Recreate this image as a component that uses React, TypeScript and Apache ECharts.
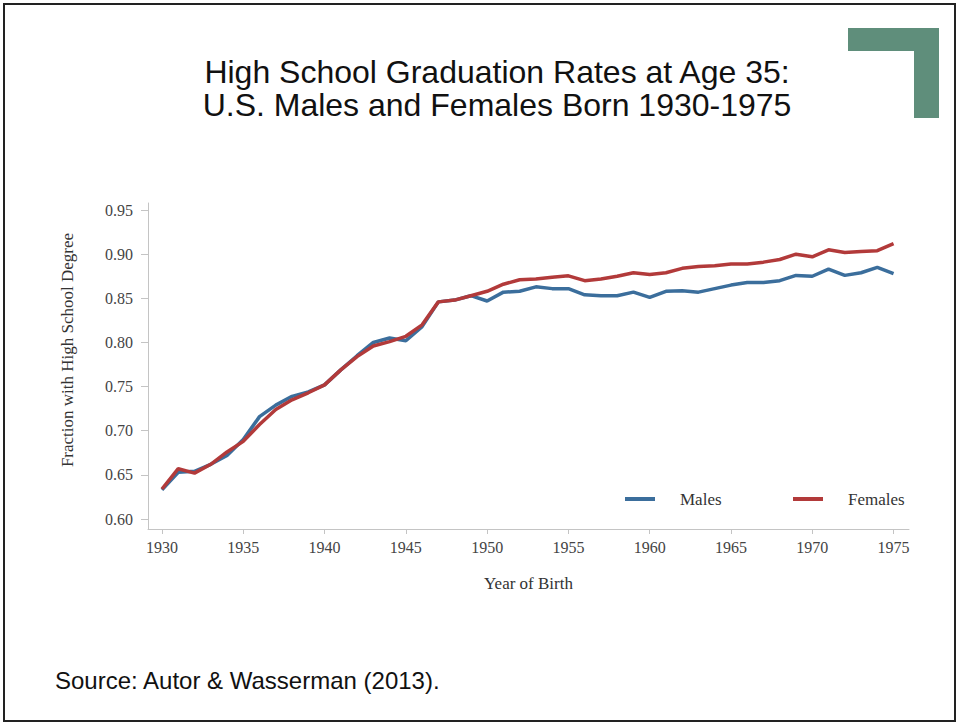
import React, { useEffect, useRef } from "react";
import * as echarts from "echarts";

const years = [
  1930, 1931, 1932, 1933, 1934, 1935, 1936, 1937, 1938, 1939,
  1940, 1941, 1942, 1943, 1944, 1945, 1946, 1947, 1948, 1949,
  1950, 1951, 1952, 1953, 1954, 1955, 1956, 1957, 1958, 1959,
  1960, 1961, 1962, 1963, 1964, 1965, 1966, 1967, 1968, 1969,
  1970, 1971, 1972, 1973, 1974, 1975,
];

const males = [
  0.633, 0.653, 0.654, 0.662, 0.672, 0.69, 0.716, 0.729, 0.739, 0.744,
  0.752, 0.769, 0.785, 0.8, 0.805, 0.802, 0.818, 0.846, 0.848, 0.853,
  0.847, 0.857, 0.858, 0.863, 0.861, 0.861, 0.854, 0.853, 0.853, 0.857,
  0.851, 0.858, 0.8585, 0.857, 0.861, 0.865, 0.868, 0.868, 0.87, 0.876,
  0.875, 0.883, 0.876, 0.879, 0.885, 0.878,
];

const females = [
  0.634, 0.657, 0.652, 0.662, 0.676, 0.688, 0.707, 0.724, 0.735, 0.743,
  0.752, 0.769, 0.784, 0.796, 0.801, 0.807, 0.82, 0.846, 0.848, 0.853,
  0.858, 0.866, 0.871, 0.872, 0.874, 0.8755, 0.87, 0.872, 0.875, 0.879,
  0.877, 0.879, 0.884, 0.886, 0.887, 0.889, 0.889, 0.891, 0.894, 0.9,
  0.897, 0.905, 0.902, 0.903, 0.904, 0.912,
];

const xTicks = [1930, 1935, 1940, 1945, 1950, 1955, 1960, 1965, 1970, 1975];
const yTicks = [0.6, 0.65, 0.7, 0.75, 0.8, 0.85, 0.9, 0.95];

const titleLines = [
  "High School Graduation Rates at Age 35:",
  "U.S. Males and Females Born 1930-1975",
];
const sourceText = "Source: Autor & Wasserman (2013).";

const BLUE = "#3b6e9c";
const RED = "#b23a3a";
const GREEN = "#5f8e7b";
const SERIF = "'Liberation Serif', 'DejaVu Serif', serif";
const SANS = "'Liberation Sans', Arial, sans-serif";

export default function App() {
  const ref = useRef<HTMLDivElement>(null);

  useEffect(() => {
    if (!ref.current) return;
    const chart = echarts.init(ref.current, undefined, { renderer: "svg" });
    const maleData = years.map((y, i) => [y, males[i]]);
    const femaleData = years.map((y, i) => [y, females[i]]);

    chart.setOption({
      animation: false,
      backgroundColor: "#ffffff",
      grid: { left: 148, right: 51, top: 203, bottom: 198, containLabel: false },
      legend: [
        {
          data: ["Males"],
          left: 620,
          top: 485,
          icon: "rect",
          itemWidth: 30,
          itemHeight: 4,
          textStyle: { fontFamily: SERIF, fontSize: 17, color: "#333", lineHeight: 18, padding: [0, 0, 0, 20] },
        },
        {
          data: ["Females"],
          left: 788,
          top: 485,
          icon: "rect",
          itemWidth: 30,
          itemHeight: 4,
          textStyle: { fontFamily: SERIF, fontSize: 17, color: "#333", lineHeight: 18, padding: [0, 0, 0, 20] },
        },
      ],
      xAxis: {
        type: "value",
        min: 1929.14,
        max: 1975.95,
        name: "Year of Birth",
        nameLocation: "middle",
        nameGap: 46,
        nameTextStyle: { fontFamily: SERIF, fontSize: 17, color: "#333" },
        axisLine: { show: true, lineStyle: { color: "#c4c4c4", width: 1 } },
        axisTick: { show: true, length: 5, customValues: xTicks, lineStyle: { color: "#c4c4c4" } },
        axisLabel: {
          customValues: xTicks,
          formatter: (v: number) => String(v),
          fontFamily: SERIF,
          fontSize: 16,
          color: "#444",
          margin: 10,
        },
        splitLine: { show: false },
      },
      yAxis: {
        type: "value",
        min: 0.5887,
        max: 0.958,
        name: "Fraction with High School Degree",
        nameLocation: "middle",
        nameGap: 72,
        nameRotate: 90,
        nameTextStyle: { fontFamily: SERIF, fontSize: 17, color: "#333", padding: [0, 0, 0, 32] },
        axisLine: { show: true, lineStyle: { color: "#c4c4c4", width: 1 } },
        axisTick: { show: true, length: 7, customValues: yTicks, lineStyle: { color: "#c4c4c4" } },
        axisLabel: {
          customValues: yTicks,
          formatter: (v: number) => v.toFixed(2),
          fontFamily: SERIF,
          fontSize: 16,
          color: "#444",
          margin: 15,
        },
        splitLine: { show: false },
      },
      series: [
        {
          name: "Males",
          type: "line",
          data: maleData,
          showSymbol: false,
          symbol: "none",
          lineStyle: { color: BLUE, width: 3.5 },
          itemStyle: { color: BLUE },
        },
        {
          name: "Females",
          type: "line",
          data: femaleData,
          showSymbol: false,
          symbol: "none",
          lineStyle: { color: RED, width: 3.5 },
          itemStyle: { color: RED },
        },
      ],
      graphic: [
        {
          type: "rect",
          shape: { x: 4, y: 4, width: 951, height: 717 },
          style: { fill: "none", stroke: "#222", lineWidth: 2 },
          silent: true,
        },
        { type: "rect", shape: { x: 848, y: 28, width: 91, height: 23 }, style: { fill: GREEN } },
        { type: "rect", shape: { x: 914, y: 28, width: 25, height: 90 }, style: { fill: GREEN } },
        {
          type: "text",
          x: 497,
          y: 56,
          style: {
            text: titleLines[0],
            fontFamily: SANS,
            fontSize: 32,
            fill: "#111",
            align: "center",
            verticalAlign: "top",
          },
        },
        {
          type: "text",
          x: 497,
          y: 89,
          style: {
            text: titleLines[1],
            fontFamily: SANS,
            fontSize: 32,
            fill: "#111",
            align: "center",
            verticalAlign: "top",
          },
        },
        {
          type: "text",
          x: 55,
          y: 668,
          style: {
            text: sourceText,
            fontFamily: SANS,
            fontSize: 24,
            fill: "#111",
            align: "left",
            verticalAlign: "top",
          },
        },
      ],
    });

    return () => chart.dispose();
  }, []);

  return (
    <div
      ref={ref}
      style={{ position: "absolute", left: 0, top: 0, width: 960, height: 727 }}
    />
  );
}
